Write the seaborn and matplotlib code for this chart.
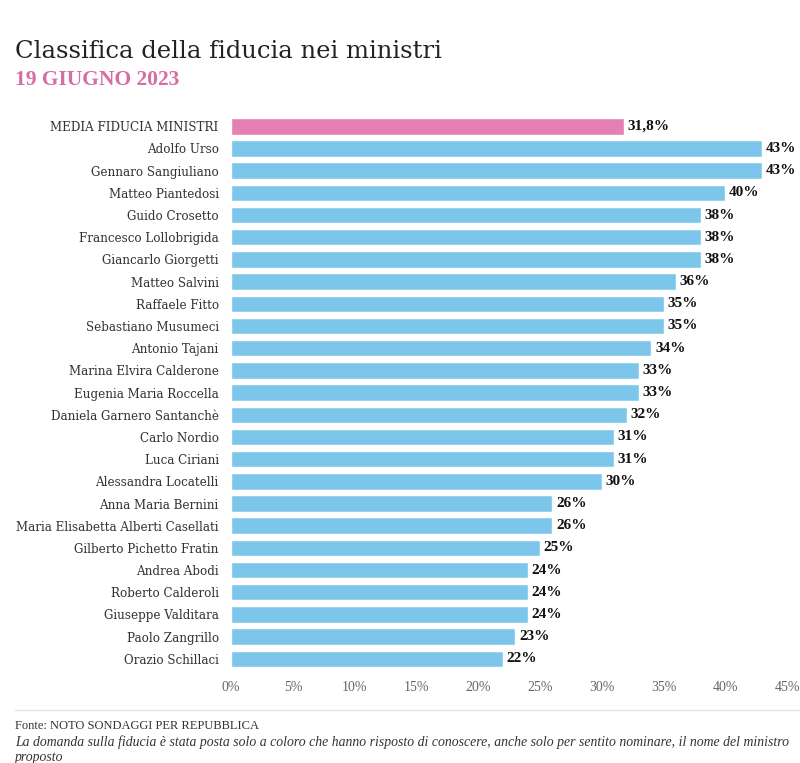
import matplotlib
matplotlib.use("Agg")
import matplotlib.pyplot as plt
import seaborn as sns
import pandas as pd

names = ["MEDIA FIDUCIA MINISTRI", "Adolfo Urso", "Gennaro Sangiuliano", "Matteo Piantedosi",
         "Guido Crosetto", "Francesco Lollobrigida", "Giancarlo Giorgetti", "Matteo Salvini",
         "Raffaele Fitto", "Sebastiano Musumeci", "Antonio Tajani", "Marina Elvira Calderone",
         "Eugenia Maria Roccella", "Daniela Garnero Santanchè", "Carlo Nordio", "Luca Ciriani",
         "Alessandra Locatelli", "Anna Maria Bernini", "Maria Elisabetta Alberti Casellati",
         "Gilberto Pichetto Fratin", "Andrea Abodi", "Roberto Calderoli", "Giuseppe Valditara",
         "Paolo Zangrillo", "Orazio Schillaci"]
values = [31.8, 43, 43, 40, 38, 38, 38, 36, 35, 35, 34, 33, 33, 32, 31, 31, 30, 26, 26, 25,
          24, 24, 24, 23, 22]
value_labels = ["31,8%", "43%", "43%", "40%", "38%", "38%", "38%", "36%", "35%", "35%", "34%",
                "33%", "33%", "32%", "31%", "31%", "30%", "26%", "26%", "25%", "24%", "24%",
                "24%", "23%", "22%"]
xticks = [0, 5, 10, 15, 20, 25, 30, 35, 40, 45]
xtick_labels = ["0%", "5%", "10%", "15%", "20%", "25%", "30%", "35%", "40%", "45%"]

PINK = "#e580b3"
BLUE = "#7dc6eb"
colors = [PINK] + [BLUE] * (len(names) - 1)

sns.set_theme(style="white")
plt.rcParams['font.family'] = ['Liberation Serif', 'DejaVu Serif']
WIDE = ['DejaVu Serif']

df = pd.DataFrame({"name": names, "value": values})

fig = plt.figure(figsize=(8, 7.63), dpi=100)
ax = fig.add_axes([0.289, 0.122, 0.695, 0.727])
sns.barplot(data=df, x="value", y="name", hue="name", palette=colors, legend=False,
            width=0.74, ax=ax, saturation=1)

for i, (v, lab) in enumerate(zip(values, value_labels)):
    ax.text(v + 0.3, i, lab, va="center", ha="left", fontsize=11, color="#111111",
            fontweight="bold", clip_on=False)

ax.set_xlim(0, 45)
ax.set_ylim(len(names) - 0.5, -0.5)
ax.set_xticks(xticks)
ax.set_xticklabels(xtick_labels, fontsize=10, color="#666666")
ax.set_yticks(range(len(names)))
ax.set_yticklabels(names, fontsize=8.6, color="#333333", family=WIDE)
ax.tick_params(axis="y", length=0, pad=9)
ax.tick_params(axis="x", length=0, pad=8)
ax.set_xlabel("")
ax.set_ylabel("")
for s in ax.spines.values():
    s.set_visible(False)
ax.grid(False)

fig.text(15/800, 1 - 51/763, "Classifica della fiducia nei ministri", fontsize=17.5,
         color="#222222", va="center", ha="left", family=WIDE)
fig.text(15/800, 1 - 80/763, "19 GIUGNO 2023", fontsize=15.5, fontweight="bold",
         color="#d56fa3", va="center", ha="left")

fig.add_artist(plt.Line2D([15/800, 1], [1 - 710/763, 1 - 710/763], color="#e6e6e6",
                          linewidth=1, transform=fig.transFigure))
fig.text(15/800, 1 - 726/763, "Fonte: NOTO SONDAGGI PER REPUBBLICA", fontsize=9,
         color="#333333", va="center", ha="left")
fig.text(15/800, 1 - 742/763,
         "La domanda sulla fiducia è stata posta solo a coloro che hanno risposto di conoscere, "
         "anche solo per sentito nominare, il nome del ministro",
         fontsize=9.95, style="italic", color="#333333", va="center", ha="left")
fig.text(15/800, 1 - 757/763, "proposto", fontsize=9.95, style="italic", color="#333333",
         va="center", ha="left")

fig.savefig("out.png", dpi=100)
